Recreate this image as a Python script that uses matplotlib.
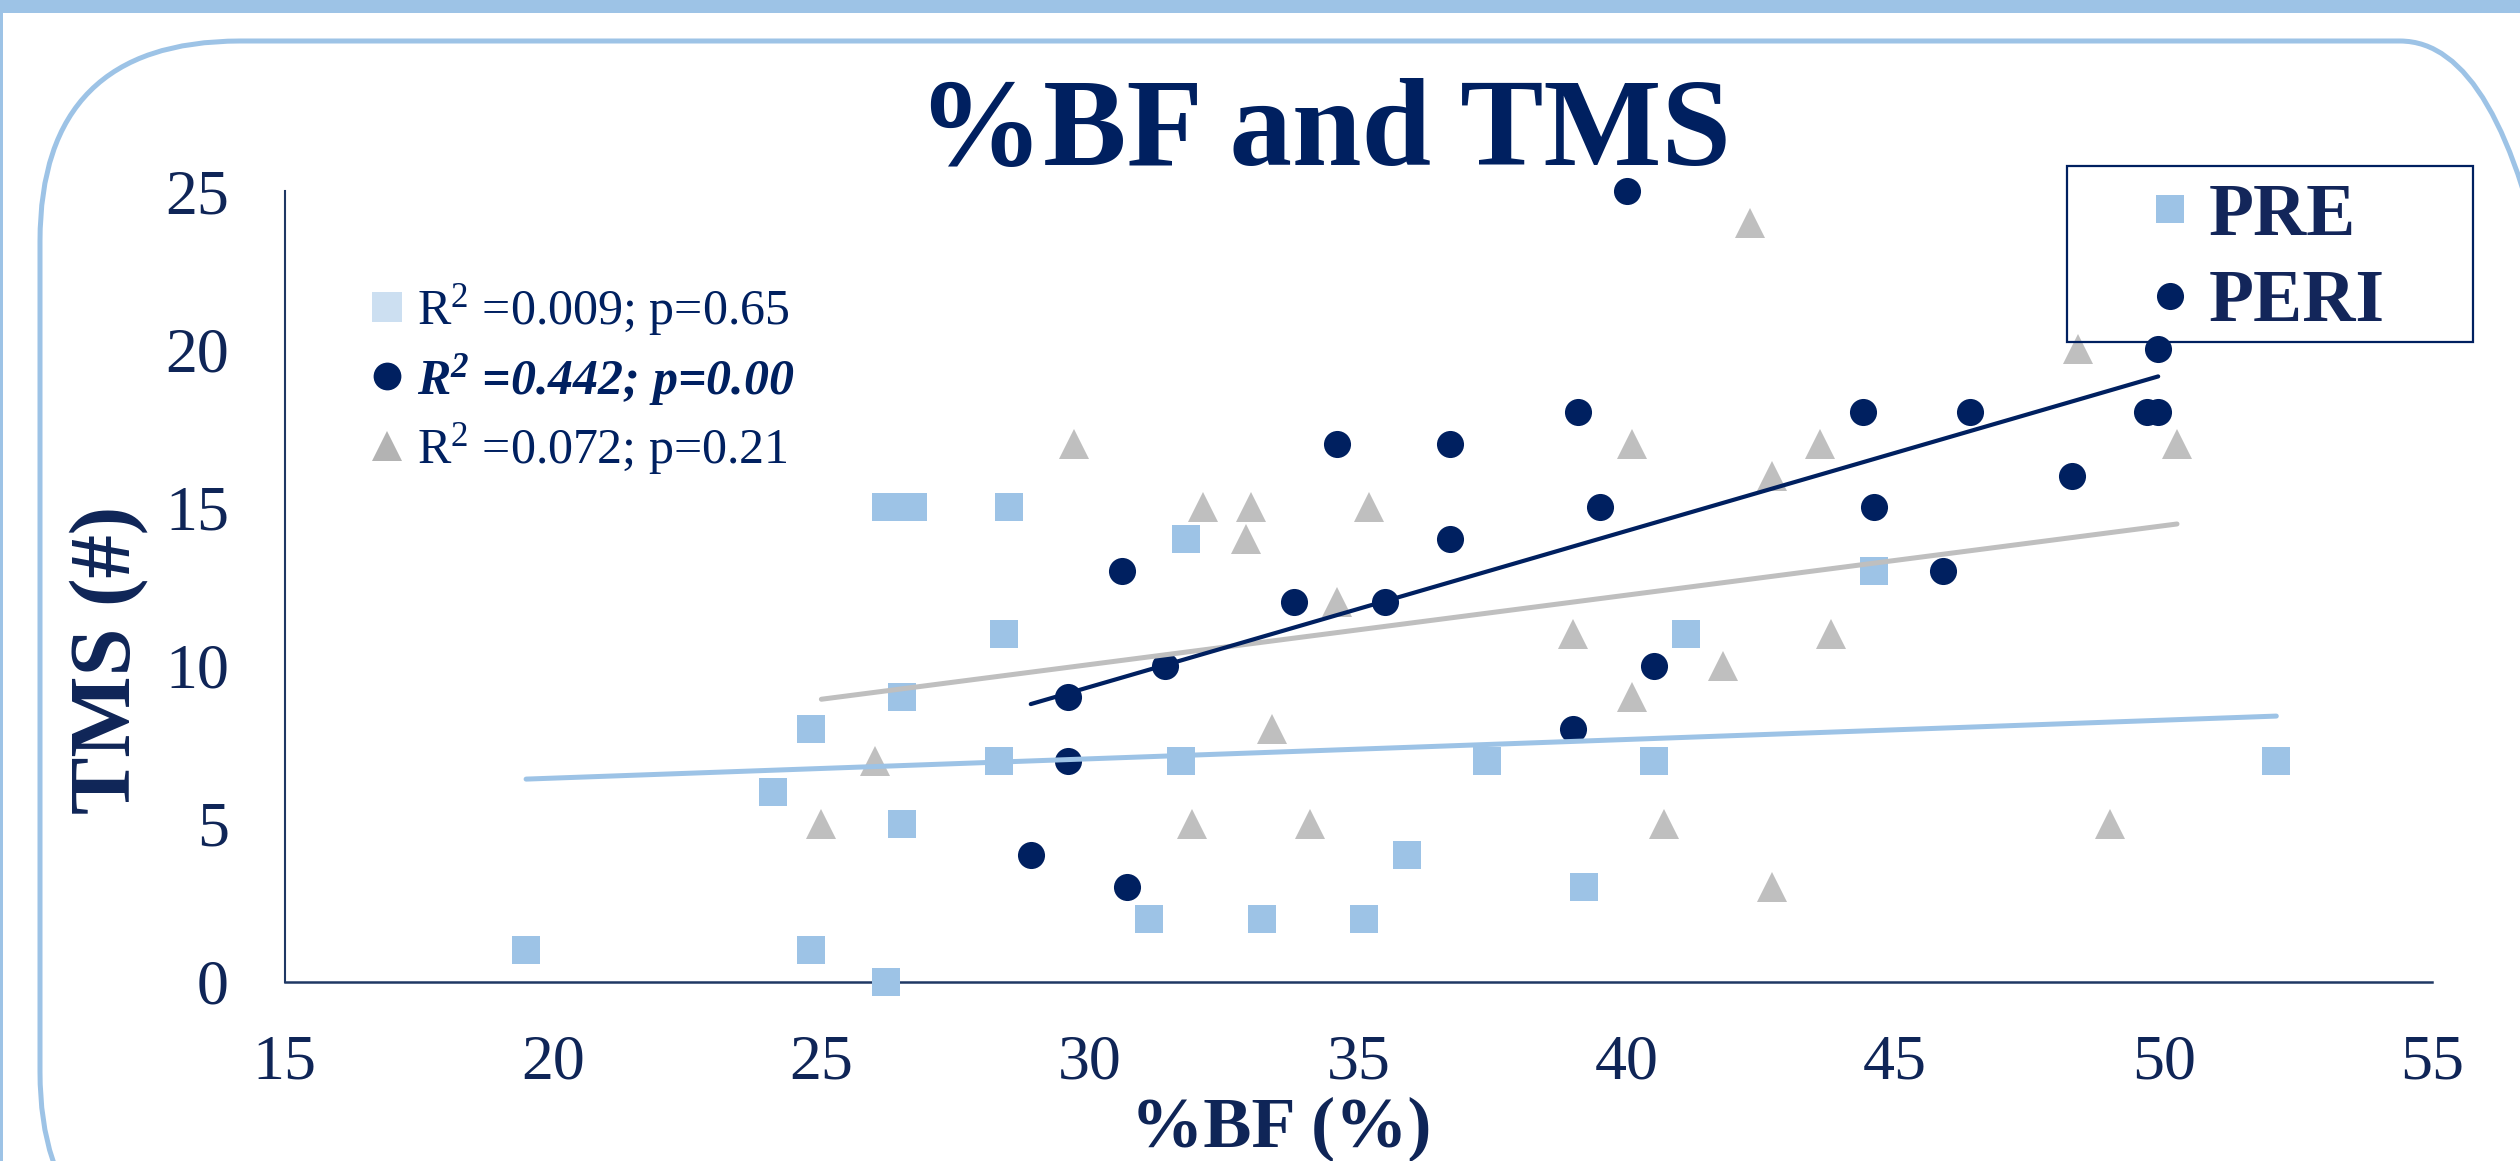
import numpy as np
import matplotlib.pyplot as plt
from matplotlib.lines import Line2D
from matplotlib.patches import Rectangle, FancyBboxPatch

plt.rcParams['font.family'] = ['Liberation Serif', 'DejaVu Serif']
plt.rcParams['mathtext.fontset'] = 'custom'
plt.rcParams['mathtext.rm'] = 'Liberation Serif'
plt.rcParams['mathtext.it'] = 'Liberation Serif:italic'
plt.rcParams['mathtext.bf'] = 'Liberation Serif:bold:italic'

# PRE (squares)
pre_bf = [19.5, 24.8, 26.2, 24.1, 24.8, 26.5, 26.5, 26.2, 26.7, 28.5, 28.4, 28.3,
          31.8, 31.7, 31.1, 33.2, 35.1, 35.9, 37.4, 39.2, 40.5, 41.1, 44.6, 52.1]
pre_tms = [1, 1, 0, 6, 8, 5, 9, 15, 15, 15, 11, 7,
           14, 7, 2, 2, 2, 4, 7, 3, 7, 11, 13, 7]

# PERI (circles)
peri_bf = [40.0, 30.6, 34.6, 36.7, 39.1, 36.7, 39.5, 33.8, 35.5, 31.4, 29.6, 39.0,
           29.6, 28.9, 30.7, 49.9, 44.4, 46.4, 49.7, 49.9, 48.3, 44.6, 45.9, 40.5]
peri_tms = [25, 13, 17, 17, 18, 14, 15, 12, 12, 10, 9, 8,
            7, 4, 3, 20, 18, 18, 18, 18, 16, 15, 13, 10]

# third series (triangles, not in the box legend)
post_bf = [26.0, 25.0, 29.7, 32.1, 33.0, 35.2, 32.9, 34.6, 33.4, 31.9, 34.1, 42.3,
           48.4, 40.1, 43.6, 50.25, 42.7, 39.0, 43.8, 41.8, 40.1, 40.7, 49.0, 42.7]
post_tms = [7, 5, 17, 15, 15, 15, 14, 12, 8, 5, 5, 24,
            20, 17, 17, 17, 16, 11, 11, 10, 9, 5, 5, 3]

stats_labels = ['R$^{2}$ =0.009; p=0.65', 'R$^{\\mathbf{2}}$ =0.442; p=0.00',
                'R$^{2}$ =0.072; p=0.21']
xticks = [15, 20, 25, 30, 35, 40, 45, 50, 55]
yticks = [0, 5, 10, 15, 20, 25]

LIGHT = '#9DC3E6'
NAVY = '#002060'
GRAY = '#BFBFBF'
TXT = '#0F2557'

W, H = 2520, 1161
fig = plt.figure(figsize=(W / 100, H / 100), dpi=100)

# slide decorations
fig.add_artist(Rectangle((0, 1 - 13 / H), 1, 13 / H, transform=fig.transFigure,
                         color=LIGHT, lw=0))
fig.add_artist(Rectangle((0, 0), 3 / W, 1, transform=fig.transFigure, color=LIGHT, lw=0))
fig.add_artist(FancyBboxPatch((40 / W, 1 - 1272 / H), 2560 / W, 1231 / H,
                              boxstyle='round,pad=0,rounding_size=%f' % (200 / W),
                              transform=fig.transFigure, fill=False,
                              ec=LIGHT, lw=3.6, mutation_aspect=W / H))

ax = fig.add_axes([284.5 / W, (H - 982) / H, (2432 - 284.5) / W, (982 - 191) / H])


def fit_line(x, y):
    x = np.asarray(x, float)
    y = np.asarray(y, float)
    k, b = np.polyfit(x, y, 1)
    xs = np.array([x.min(), x.max()])
    return xs, k * xs + b


ax.plot(pre_bf, pre_tms, 's', ms=19.5, color=LIGHT, mew=0, zorder=3, clip_on=False)
ax.plot(peri_bf, peri_tms, 'o', ms=19.5, color=NAVY, mew=0, zorder=3, clip_on=False)
ax.plot(post_bf, post_tms, '^', ms=21, color=GRAY, mew=0, zorder=3, clip_on=False)

for xs, ys, c, lw in [(pre_bf, pre_tms, LIGHT, 3.6),
                      (post_bf, post_tms, GRAY, 3.6),
                      (peri_bf, peri_tms, NAVY, 3.0)]:
    lx, ly = fit_line(xs, ys)
    ax.plot(lx, ly, color=c, lw=lw, solid_capstyle='round', zorder=4)

ax.set_xlim(15, 55)
ax.set_ylim(0, 25)
ax.set_xticks(xticks)
ax.set_yticks(yticks)
ax.tick_params(length=0, labelsize=46, labelcolor=TXT)
ax.tick_params(axis='x', pad=38)
ax.tick_params(axis='y', pad=40)
for s in ['top', 'right']:
    ax.spines[s].set_visible(False)
ax.spines['left'].set_color('#1F3864')
ax.spines['left'].set_linewidth(1.5)
ax.spines['bottom'].set_color('#1F3864')
ax.spines['bottom'].set_linewidth(1.8)
ax.spines['left'].set_zorder(1)
ax.spines['bottom'].set_zorder(1)

ax.set_xlabel('%BF (%)', fontsize=52, fontweight='bold', color=TXT, va='baseline')
ax.xaxis.set_label_coords((1281 - 284.5) / 2147.5, (982 - 1147) / 791)
ax.set_ylabel('TMS (#)', fontsize=62, fontweight='bold', color=TXT, va='center')
ax.yaxis.set_label_coords((109 - 284.5) / 2147.5, (982 - 660) / 791)

fig.text(1324 / W, 1 - 165 / H, '%BF and TMS', fontsize=90, fontweight='bold',
         color=NAVY, ha='center', va='baseline')

# R2 legend
h_stats = [Line2D([], [], ls='none', marker='s', ms=21, color='#CCDFF1', mew=0),
           Line2D([], [], ls='none', marker='o', ms=20, color=NAVY, mew=0),
           Line2D([], [], ls='none', marker='^', ms=21, color='#B3B3B3', mew=0)]
leg1 = fig.legend(h_stats, stats_labels, loc='upper left',
                  bbox_to_anchor=(372 / W, 1 - 282 / H), bbox_transform=fig.transFigure,
                  frameon=False, fontsize=36, borderpad=0, borderaxespad=0,
                  handlelength=0.6, handletextpad=0.3, labelspacing=0.27)
for t in leg1.get_texts():
    t.set_color(NAVY)
leg1.get_texts()[1].set_fontweight('bold')
leg1.get_texts()[1].set_fontstyle('italic')

# series legend
fig.add_artist(Rectangle((2067 / W, 1 - 342 / H), 406 / W, 176 / H,
                         transform=fig.transFigure, fill=False, ec=NAVY, lw=1.6, zorder=5))
h_ser = [Line2D([], [], ls='none', marker='s', ms=19.5, color=LIGHT, mew=0),
         Line2D([], [], ls='none', marker='o', ms=19.5, color=NAVY, mew=0)]
leg2 = fig.legend(h_ser, ['PRE', 'PERI'], loc='upper left',
                  bbox_to_anchor=(2151.6 / W, 1 - 183 / H), bbox_transform=fig.transFigure,
                  frameon=False, borderpad=0, borderaxespad=0,
                  handlelength=0.5, handletextpad=0.27, labelspacing=0.25,
                  prop={'weight': 'bold', 'size': 53})
for t in leg2.get_texts():
    t.set_color('#13265A')

fig.savefig('out.png', dpi=100)
